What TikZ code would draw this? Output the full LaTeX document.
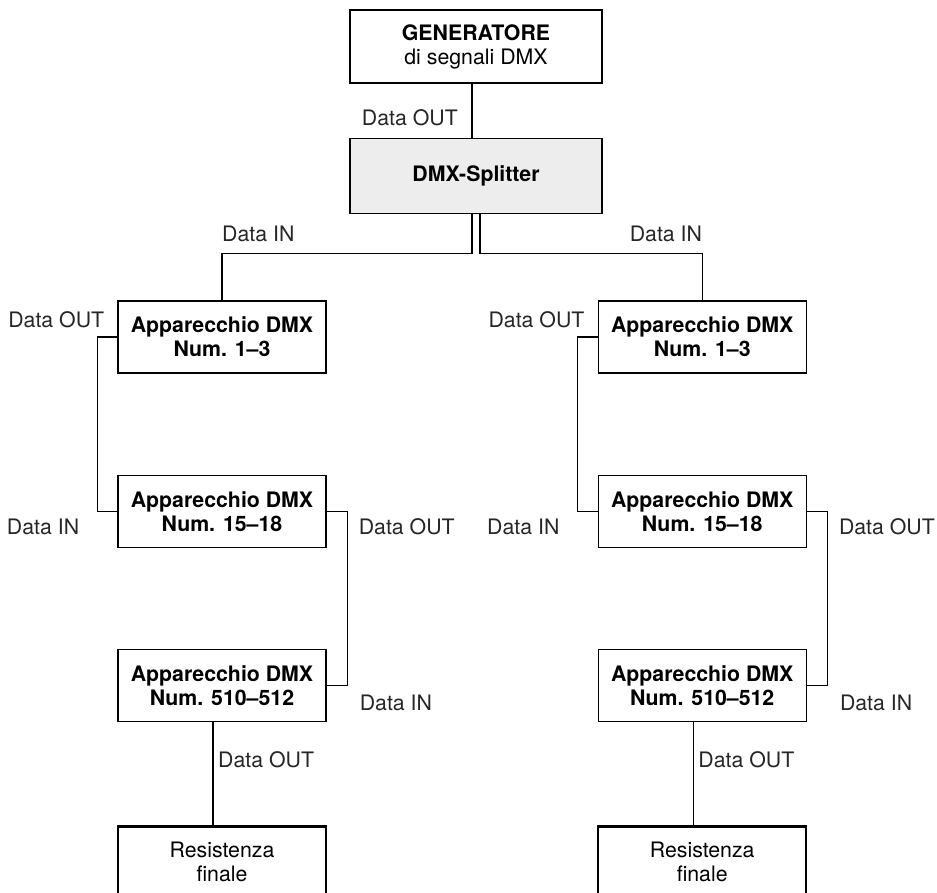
\documentclass[tikz,border=0pt]{standalone}
\usepackage{fontspec}
\setmainfont{TeX Gyre Heros}
\usetikzlibrary{positioning}

\begin{document}
\begin{tikzpicture}[
    x=1pt, y=1pt,
    node distance=101pt,
    box/.style={draw, line width=1.2pt, minimum width=208pt, minimum height=72pt,
      inner sep=0pt, align=center, font=\fontsize{21.3}{24}\selectfont\bfseries},
    wide/.style={box, minimum width=252pt},
    endbox/.style={box, line width=2.5pt, font=\fontsize{21.3}{24}\selectfont},
    lbl/.style={inner sep=0pt, text=black!85, font=\fontsize{21.3}{24}\selectfont},
    wire/.style={draw, line width=1.2pt},
  ]
  \useasboundingbox (0,0) rectangle (937,-892);

  \node[wide, minimum height=73pt] (gen) at (476,-46.5) {GENERATORE\\{\mdseries di segnali DMX}};
  \node[wide, minimum height=75pt, fill=black!7, below=54pt of gen] (split) {DMX-Splitter};

  \node[box] (b1L) at (222,-337) {Apparecchio DMX\\Num. 1--3};
  \node[box] (b2L) [below=of b1L] {Apparecchio DMX\\Num. 15--18};
  \node[box] (b3L) [below=of b2L] {Apparecchio DMX\\Num. 510--512};
  \node[endbox] (endL) [below=103pt of b3L] {Resistenza\\finale};

  \node[box] (b1R) [right=271pt of b1L] {Apparecchio DMX\\Num. 1--3};
  \node[box] (b2R) [below=of b1R] {Apparecchio DMX\\Num. 15--18};
  \node[box] (b3R) [below=of b2R] {Apparecchio DMX\\Num. 510--512};
  \node[endbox] (endR) [below=103pt of b3R] {Resistenza\\finale};

  \coordinate[above=47pt of b1L] (hL);
  \coordinate[above=47pt of b1R] (hR);

  % generator to splitter
  \draw[wire] ([xshift=-4pt]gen.south) -- ([xshift=-4pt]split.north);
  \node[lbl, anchor=south east] (out0) at ([xshift=-18pt,yshift=-42pt]gen.south) {Data OUT};

  % splitter to both chains
  \draw[wire] ([xshift=-4pt]split.south) |- (hL) -- (b1L);
  \draw[wire] ([xshift=4pt]split.south) |- (hR) -- (b1R);
  \node[lbl, above right=11pt and 0pt of hL] (inL) {Data IN};
  \node[lbl, above left=11pt and 0pt of hR] (inR) {Data IN};

  % left chain
  \draw[wire] (b1L.west) -- ++(-20pt,0) |- (b2L.west);
  \draw[wire] (b2L.east) -- ++(21pt,0) |- (b3L.east);
  \draw[wire] ([xshift=-9pt]b3L.south) -- ([xshift=-9pt]endL.north);
  \node[lbl, anchor=south east] (out1L) at ([xshift=-13pt,yshift=9pt]b1L.west) {Data OUT};
  \node[lbl, anchor=north east] (in2L) at ([xshift=-38pt,yshift=-8pt]b2L.west) {Data IN};
  \node[lbl, anchor=north west] (out2L) at ([xshift=32pt,yshift=-7pt]b2L.east) {Data OUT};
  \node[lbl, anchor=north west] (in3L) at ([xshift=33pt,yshift=-9pt]b3L.east) {Data IN};
  \node[lbl, anchor=north west] (out3L) at ([xshift=-4pt,yshift=-29pt]b3L.south) {Data OUT};

  % right chain
  \draw[wire] (b1R.west) -- ++(-20pt,0) |- (b2R.west);
  \draw[wire] (b2R.east) -- ++(21pt,0) |- (b3R.east);
  \draw[wire] ([xshift=-9pt]b3R.south) -- ([xshift=-9pt]endR.north);
  \node[lbl, anchor=south east] (out1R) at ([xshift=-13pt,yshift=9pt]b1R.west) {Data OUT};
  \node[lbl, anchor=north east] (in2R) at ([xshift=-38pt,yshift=-8pt]b2R.west) {Data IN};
  \node[lbl, anchor=north west] (out2R) at ([xshift=32pt,yshift=-7pt]b2R.east) {Data OUT};
  \node[lbl, anchor=north west] (in3R) at ([xshift=33pt,yshift=-9pt]b3R.east) {Data IN};
  \node[lbl, anchor=north west] (out3R) at ([xshift=-4pt,yshift=-29pt]b3R.south) {Data OUT};
\end{tikzpicture}
\end{document}
